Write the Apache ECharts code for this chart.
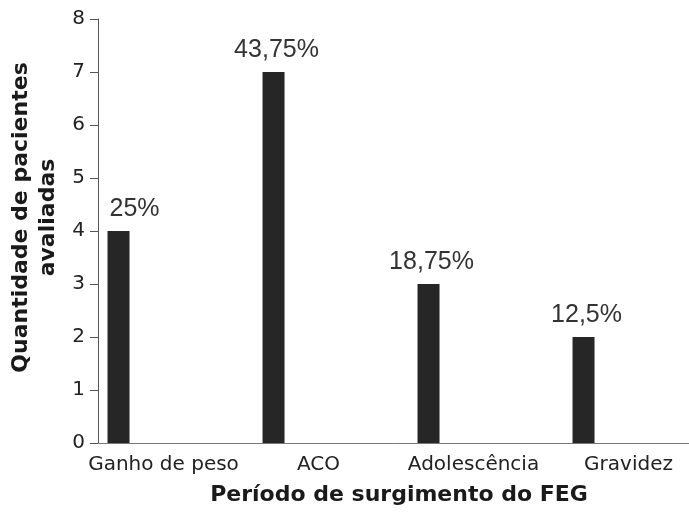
<!DOCTYPE html>
<html>
<head>
<meta charset="utf-8">
<script src="https://cdn.jsdelivr.net/npm/echarts@6/dist/echarts.min.js"></script>
<style>
  html, body { margin: 0; padding: 0; background: #fff; }
  #chart { width: 689px; height: 514px; }
</style>
</head>
<body>
<div id="chart"></div>
<script>
// dados
var periodos = ["Ganho de peso", "ACO", "Adolescência", "Gravidez"];
var pacientes = [4, 7, 3, 2];
var percentuais = ["25%", "43,75%", "18,75%", "12,5%"];
var yTicks = [0, 1, 2, 3, 4, 5, 6, 7, 8];

var chart = echarts.init(document.getElementById("chart"));

// o rotulo "25%" fica um pouco deslocado no original
var barData = pacientes.map(function (v, i) {
  return {
    value: v,
    label: { offset: [i === 0 ? 16 : 3, 0] }
  };
});

chart.setOption({
  animation: false,
  grid: {
    left: 98,
    top: 19,
    bottom: 71,
    right: -29,
    containLabel: false,
    outerBoundsMode: "none"
  },
  xAxis: {
    type: "category",
    data: periodos,
    name: "Período de surgimento do FEG",
    nameLocation: "middle",
    nameGap: 41,
    nameTextStyle: {
      fontFamily: "DejaVu Sans",
      fontWeight: "bold",
      fontSize: 22,
      color: "#1a1a1a",
      padding: [0, 18, 0, 0]
    },
    axisLine: { lineStyle: { color: "#777", width: 1 } },
    axisTick: { show: false },
    axisLabel: {
      interval: 0, // mostrar todos os periodos
      fontFamily: "DejaVu Sans",
      fontSize: 20,
      color: "#222",
      margin: 12,
      padding: [0, 24, 0, 0]
    }
  },
  yAxis: {
    type: "value",
    min: yTicks[0],
    max: yTicks[yTicks.length - 1],
    interval: 1,
    name: "Quantidade de pacientes\navaliadas",
    nameLocation: "middle",
    nameGap: 36,
    nameTextStyle: {
      fontFamily: "DejaVu Sans",
      fontWeight: "bold",
      fontSize: 22,
      lineHeight: 27,
      color: "#1a1a1a",
      padding: [0, 0, 0, 27]
    },
    splitLine: { show: false },
    axisLine: { show: true, lineStyle: { color: "#555", width: 1 } },
    axisTick: { show: true, length: 8, lineStyle: { color: "#555" } },
    axisLabel: {
      fontFamily: "DejaVu Sans",
      fontSize: 20,
      color: "#222",
      margin: 13
    }
  },
  series: [
    {
      type: "bar",
      data: barData,
      barWidth: 22,
      barGap: "418%",
      itemStyle: { color: "#262626" },
      label: {
        show: true,
        position: "top",
        distance: 9,
        fontFamily: "Liberation Sans",
        fontSize: 25,
        color: "#333",
        formatter: function (p) {
          return percentuais[p.dataIndex];
        }
      }
    },
    {
      // serie vazia so para deslocar as barras para a esquerda
      type: "bar",
      data: pacientes.map(function () { return null; }),
      barWidth: 22,
      silent: true
    }
  ]
});
</script>
</body>
</html>
